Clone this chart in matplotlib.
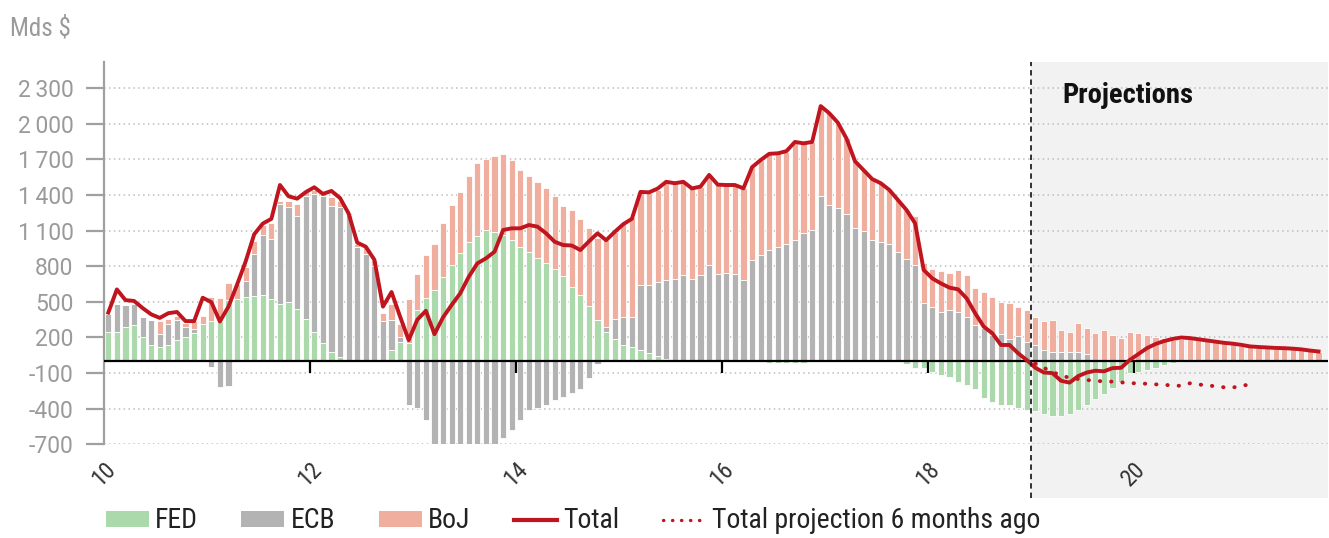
import numpy as np
import matplotlib
matplotlib.use('Agg')
import matplotlib.pyplot as plt
from matplotlib import font_manager as fm
from matplotlib.lines import Line2D
from matplotlib.patches import Patch
from matplotlib.transforms import blended_transform_factory

names = {f.name for f in fm.fontManager.ttflist}
def pick(cands):
    for c in cands:
        if c in names:
            return c
    return 'DejaVu Sans'
cond = pick(['Roboto Condensed', 'Liberation Sans Narrow', 'Open Sans Condensed', 'Roboto'])
reg = pick(['Roboto', 'Liberation Sans', 'DejaVu Sans'])
plt.rcParams['font.family'] = [cond, 'DejaVu Sans']

# ---------------- data (monthly, Jan 2010 .. Oct 2021), Mds $ ----------------
start_year = 2010
fed = [247, 247, 289, 303, 205, 135, 120, 135, 177, 200,
       240, 310, 335, 335, 520, 525, 540, 552, 555, 527,
       485, 500, 443, 359, 247, 154, 78, 36, 0, 0,
       0, 0, 0, 92, 163, 150, 430, 530, 600, 710,
       810, 913, 1005, 1053, 1104, 1090, 1060, 1020, 965, 918,
       873, 830, 775, 720, 628, 557, 462, 345, 250, 190,
       140, 122, 95, 67, 45, 20, 0, 0, 0, 0,
       0, 0, 0, 0, 0, 0, 0, -12, -12, -12,
       -12, -12, 0, 0, 0, 0, 0, 0, 0, 0,
       0, 0, 0, -20, -60, -60, -88, -116, -130, -172,
       -200, -230, -312, -340, -368, -368, -396, -410, -420, -445,
       -460, -460, -445, -411, -365, -320, -278, -228, -172, -102,
       -88, -74, -60, -32, -18, -10, 0, 0, 0, 0,
       0, 0, 0, 0, 0, 0, 0, 0, 0, 0,
       0, 0]
ecb = [154, 238, 182, 182, 168, 210, 110, 182, 168, 90,
       35, 0, -50, -216, -205, 0, 140, 350, 505, 505,
       841, 798, 785, 1037, 1163, 1242, 1234, 1262, 1230, 960,
       900, 800, 340, 253, 42, -370, -395, -495, -771, -795,
       -840, -854, -846, -845, -839, -803, -650, -579, -495, -410,
       -395, -370, -327, -300, -271, -230, -145, -20, 40, 170,
       235, 253, 546, 574, 624, 663, 697, 725, 697, 725,
       809, 739, 744, 739, 683, 851, 893, 941, 963, 986,
       1019, 1081, 1103, 1389, 1315, 1290, 1238, 1119, 1097, 1020,
       1006, 985, 922, 862, 810, 487, 456, 413, 431, 413,
       375, 305, 277, 217, 228, 186, 214, 165, 137, 93,
       80, 80, 80, 75, 60, 0, 0, 0, 0, 0,
       0, 0, 0, 0, 0, 0, 0, 0, 0, 0,
       0, 0, 0, 0, 0, 0, 0, 0, 0, 0,
       0, 0]
boj = [0, 0, 0, 0, 0, 0, 110, 40, 40, 30,
       60, 70, 210, 200, 140, 130, 112, 113, 84, 130,
       28, 56, 98, 30, 30, 20, 70, 50, 15, 30,
       60, 50, 70, 140, 112, 378, 303, 363, 392, 455,
       504, 513, 553, 617, 602, 636, 683, 678, 643, 640,
       637, 632, 620, 585, 650, 644, 661, 690, 730, 730,
       787, 843, 787, 779, 774, 830, 802, 788, 760, 746,
       760, 746, 741, 746, 774, 788, 802, 805, 789, 780,
       831, 755, 747, 761, 775, 720, 639, 566, 513, 515,
       494, 458, 436, 412, 412, 340, 317, 348, 313, 354,
       350, 316, 308, 326, 273, 301, 239, 266, 238, 247,
       270, 185, 165, 243, 223, 235, 262, 220, 192, 248,
       235, 221, 200, 193, 179, 185, 185, 178, 168, 160,
       150, 142, 132, 120, 115, 110, 106, 104, 100, 94,
       84, 76]
total = [410, 605, 515, 508, 448, 395, 365, 405, 415, 338,
         338, 535, 498, 335, 460, 645, 840, 1070, 1160, 1200,
         1485, 1390, 1370, 1425, 1466, 1410, 1435, 1375, 1245, 1000,
         965, 855, 460, 583, 375, 178, 350, 425, 228, 370,
         474, 572, 712, 825, 867, 923, 1106, 1120, 1120, 1148,
         1134, 1078, 1007, 979, 975, 937, 1010, 1078, 1020, 1090,
         1155, 1200, 1427, 1423, 1455, 1512, 1500, 1512, 1456, 1472,
         1570, 1488, 1485, 1485, 1457, 1635, 1695, 1748, 1752, 1770,
         1848, 1836, 1848, 2150, 2090, 2010, 1877, 1685, 1610, 1535,
         1500, 1443, 1358, 1274, 1162, 769, 698, 656, 620, 606,
         530, 404, 291, 235, 137, 137, 67, 10, -55, -95,
         -100, -165, -180, -125, -95, -80, -85, -58, -55, 10,
         60, 110, 145, 170, 188, 200, 195, 185, 175, 165,
         155, 148, 138, 125, 120, 116, 112, 110, 106, 100,
         90, 82]
proj_old_start = 108   # month index of first value
proj_old = [-20, -55, -90, -120, -140, -150, -158, -165, -170, -172,
            -178, -185, -186, -190, -195, -198, -205, -207, -186, -195,
            -205, -210, -220, -223, -203, -200]

projection_start = 2019.0
xtick_years = [2010, 2012, 2014, 2016, 2018, 2020]
xtick_labels = ['10', '12', '14', '16', '18', '20']
ytick_vals = [-700, -400, -100, 200, 500, 800, 1100, 1400, 1700, 2000, 2300]
series_names = ['FED', 'ECB', 'BoJ']

# ---------------- styling ----------------
c_fed = '#acd9ac'
c_ecb = '#b3b3b3'
c_boj = '#f0ae9f'
c_tot = '#c0141e'
c_grey_txt = '#9a9a9a'

n = len(total)
x = start_year + (np.arange(n) + 0.5) / 12.0
x_old = start_year + (np.arange(len(proj_old)) + proj_old_start + 0.5) / 12.0

W, H = 1329, 538
fig = plt.figure(figsize=(W / 100, H / 100), dpi=100)
ax_l, ax_r, ax_t, ax_b = 104, 1328, 62, 444.3
ax = fig.add_axes([ax_l / W, 1 - ax_b / H, (ax_r - ax_l) / W, (ax_b - ax_t) / H])
ax.set_xlim(2010.0, 2010.0 + (ax_r - ax_l) / 103.0)
ax.set_ylim(-700, -700 + (ax_b - ax_t) / 0.11867)

# projection shading + dashed line (extends below the axis)
ax.axvspan(projection_start, ax.get_xlim()[1], ymin=-0.14, ymax=1.0,
           color='#f2f2f2', zorder=0.1, clip_on=False, lw=0)
ax.axvline(projection_start, ymin=-0.14, ymax=1.0, color='#222222',
           ls=(0, (3, 2.2)), lw=1.3, clip_on=False, zorder=5)

# grid
ax.set_axisbelow(True)
ax.yaxis.grid(True, color='#bdbdbd', ls=(0, (1, 2.2)), lw=1.1)

# stacked diverging bars
bw = 0.72 / 12
pos_b = np.zeros(n)
neg_b = np.zeros(n)
for vals, col in zip([fed, ecb, boj], [c_fed, c_ecb, c_boj]):
    v = np.asarray(vals, dtype=float)
    bottom = np.where(v >= 0, pos_b, neg_b)
    ax.bar(x, v, width=bw, bottom=bottom, color=col, edgecolor='white',
           linewidth=0.6, zorder=2)
    pos_b += np.clip(v, 0, None)
    neg_b += np.clip(v, None, 0)

# zero line
ax.axhline(0, color='black', lw=1.6, zorder=3)

# lines
ax.plot(x, total, color=c_tot, lw=2.8, zorder=4, solid_joinstyle='round')
ax.plot(x_old, proj_old, color=c_tot, lw=2.8, ls=(0, (0.1, 2.8)),
        dash_capstyle='round', zorder=4)

# spines
for s in ['top', 'right', 'bottom']:
    ax.spines[s].set_visible(False)
ax.spines['left'].set_color('#a0a0a0')
ax.spines['left'].set_linewidth(1.6)

# y ticks
ax.set_yticks(ytick_vals)
ax.set_yticklabels([f"{v:,}".replace(',', '\u2009') for v in ytick_vals],
                   fontfamily=[reg, 'DejaVu Sans'])
ax.tick_params(axis='y', length=13, width=1.6, color='#a0a0a0',
               labelcolor=c_grey_txt, labelsize=16.5, pad=9)

# x ticks on the zero line
ax.set_xticks([])
trans = blended_transform_factory(ax.transData, ax.transAxes)
for yr, lab in zip(xtick_years, xtick_labels):
    if yr > 2010:
        ax.plot([yr, yr], [0, -100], color='black', lw=1.6, zorder=3,
                solid_capstyle='butt')
    ax.text(yr, -0.035, lab, transform=trans, rotation=45, ha='center',
            va='top', fontsize=17, color='#333333')

# texts
ax.text(2019.30, 2243, 'Projections', fontsize=20.5, fontweight='bold',
        color='#111111', va='center', ha='left', zorder=6)
fig.text(10 / W, 1 - 28 / H, 'Mds $', fontsize=18, color=c_grey_txt,
         va='center', ha='left')

# legend
handles = [Patch(facecolor=c_fed, edgecolor='none'),
           Patch(facecolor=c_ecb, edgecolor='none'),
           Patch(facecolor=c_boj, edgecolor='none'),
           Line2D([], [], color=c_tot, lw=3.0),
           Line2D([], [], color=c_tot, lw=2.4, ls=(0, (0.1, 2.6)),
                  dash_capstyle='round')]
labels = series_names + ['Total', 'Total projection 6 months ago']
fig.legend(handles, labels, loc='center left',
           bbox_to_anchor=(100 / W, 1 - 521 / H), ncol=5, frameon=False,
           fontsize=20, handlelength=1.55, handleheight=0.5,
           handletextpad=0.22, columnspacing=1.57, labelcolor='#222222',
           borderaxespad=0, borderpad=0.2)

fig.savefig('out.png', dpi=100)
